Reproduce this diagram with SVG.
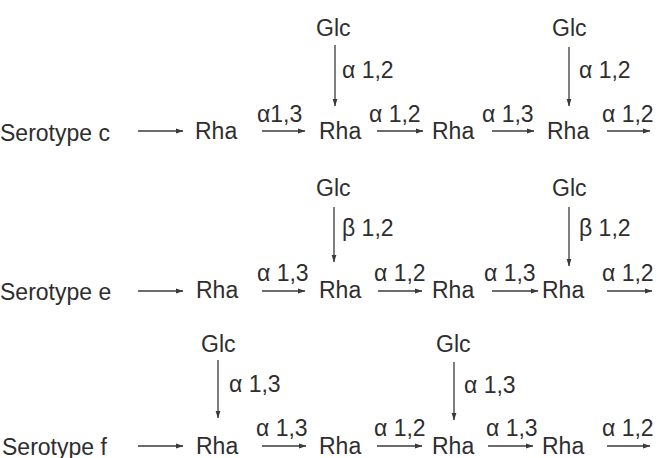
<svg xmlns="http://www.w3.org/2000/svg" width="660" height="458" viewBox="0 0 660 458">
<defs>
<style>
text{font-family:"Liberation Sans",Arial,sans-serif;font-size:23px;fill:#2e2e2e}
.c line{stroke:#3a3a3a;stroke-width:1.3;marker-end:url(#ah)}
</style>
<marker id="ah" markerWidth="8" markerHeight="6" refX="7" refY="3" orient="auto" markerUnits="userSpaceOnUse">
<path d="M0,0.6 L7.5,3 L0,5.4 Z" fill="#3a3a3a"/>
</marker>
</defs>
<rect width="660" height="458" fill="#fff"/>
<g id="row-c">
<g id="c-label"><text x="0" y="141">Serotype c</text></g>
<g id="c-rha1"><text x="195" y="139">Rha</text></g>
<g id="c-rha2"><text x="319" y="139">Rha</text></g>
<g id="c-rha3"><text x="432" y="139">Rha</text></g>
<g id="c-rha4"><text x="547" y="139">Rha</text></g>
<g id="c-glc1"><text x="316" y="36">Glc</text></g>
<g id="c-glc2"><text x="552" y="36">Glc</text></g>
</g>
<g id="row-e">
<g id="e-label"><text x="0" y="300">Serotype e</text></g>
<g id="e-rha1"><text x="196" y="298">Rha</text></g>
<g id="e-rha2"><text x="319" y="298">Rha</text></g>
<g id="e-rha3"><text x="432" y="298">Rha</text></g>
<g id="e-rha4"><text x="542" y="298">Rha</text></g>
<g id="e-glc1"><text x="316" y="196">Glc</text></g>
<g id="e-glc2"><text x="552" y="196">Glc</text></g>
</g>
<g id="row-f">
<g id="f-label"><text x="2" y="455">Serotype f</text></g>
<g id="f-rha1"><text x="196" y="454">Rha</text></g>
<g id="f-rha2"><text x="319" y="454">Rha</text></g>
<g id="f-rha3"><text x="432" y="454">Rha</text></g>
<g id="f-rha4"><text x="542" y="454">Rha</text></g>
<g id="f-glc1"><text x="201" y="352">Glc</text></g>
<g id="f-glc2"><text x="436" y="352">Glc</text></g>
</g>
<g id="connectors" class="c">
<line x1="138" y1="131" x2="183" y2="131"/>
<line x1="262" y1="131" x2="305" y2="131"/>
<line x1="377" y1="131" x2="423" y2="131"/>
<line x1="492" y1="131" x2="534" y2="131"/>
<line x1="607" y1="131" x2="650" y2="131"/>
<line x1="335" y1="45" x2="335" y2="106"/>
<line x1="569" y1="47" x2="569" y2="106"/>
<line x1="138" y1="291" x2="183" y2="291"/>
<line x1="262" y1="291" x2="305" y2="291"/>
<line x1="378" y1="291" x2="422" y2="291"/>
<line x1="492" y1="291" x2="538" y2="291"/>
<line x1="607" y1="291" x2="652" y2="291"/>
<line x1="334" y1="207" x2="334" y2="262"/>
<line x1="569" y1="207" x2="569" y2="266"/>
<line x1="138" y1="446" x2="183" y2="446"/>
<line x1="262" y1="446" x2="306" y2="446"/>
<line x1="377" y1="446" x2="422" y2="446"/>
<line x1="488" y1="446" x2="533" y2="446"/>
<line x1="607" y1="446" x2="650" y2="446"/>
<line x1="218" y1="360" x2="218" y2="418"/>
<line x1="454" y1="362" x2="454" y2="420"/>
<text x="257" y="122">α1,3</text>
<text x="342" y="78">α 1,2</text>
<text x="369" y="122">α 1,2</text>
<text x="482" y="122">α 1,3</text>
<text x="579" y="78">α 1,2</text>
<text x="602" y="122">α 1,2</text>
<text x="257" y="281">α 1,3</text>
<text x="342" y="236">β 1,2</text>
<text x="374" y="281">α 1,2</text>
<text x="484" y="281">α 1,3</text>
<text x="579" y="236">β 1,2</text>
<text x="602" y="281">α 1,2</text>
<text x="229" y="392">α 1,3</text>
<text x="256" y="436">α 1,3</text>
<text x="374" y="436">α 1,2</text>
<text x="464" y="393">α 1,3</text>
<text x="486" y="436">α 1,3</text>
<text x="602" y="436">α 1,2</text>
</g>
</svg>
